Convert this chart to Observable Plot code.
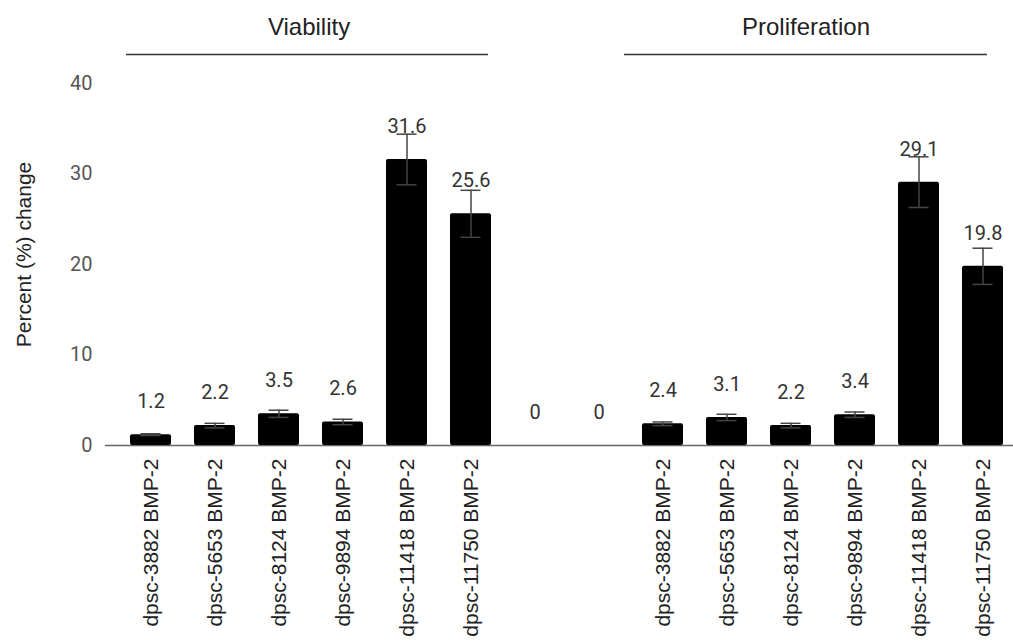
<!DOCTYPE html>
<html>
<head>
<meta charset="utf-8">
<script src="https://cdn.jsdelivr.net/npm/d3@7"></script>
<script src="https://cdn.jsdelivr.net/npm/@observablehq/plot@0.6"></script>
<style>
  html, body { margin: 0; padding: 0; background: #fff; }
</style>
</head>
<body>
<div id="chart"></div>
<script>
// ---- data ----
const strains = ["dpsc-3882 BMP-2", "dpsc-5653 BMP-2", "dpsc-8124 BMP-2", "dpsc-9894 BMP-2", "dpsc-11418 BMP-2", "dpsc-11750 BMP-2"];
const viability = [1.2, 2.2, 3.5, 2.6, 31.6, 25.6];
const viabilityErr = [0.1, 0.25, 0.4, 0.3, 2.8, 2.6];
const proliferation = [2.4, 3.1, 2.2, 3.4, 29.1, 19.8];
const proliferationErr = [0.2, 0.35, 0.25, 0.3, 2.8, 2.0];
const gapValues = [0, 0];
const groupNames = ["Viability", "Proliferation"];
const yTicks = [0, 10, 20, 30, 40];
const yTitle = "Percent (%) change";

// ---- table built from the arrays ----
const rows = [];
strains.forEach((s, i) => rows.push({key: "V|" + s, label: s, value: viability[i], err: viabilityErr[i]}));
gapValues.forEach((v, i) => rows.push({key: "gap" + i, label: "", value: v, err: null}));
strains.forEach((s, i) => rows.push({key: "P|" + s, label: s, value: proliferation[i], err: proliferationErr[i]}));
const bars = rows.filter(d => d.err != null);
const labelOf = new Map(rows.map(d => [d.key, d.label]));
const headers = [
  {name: groupNames[0], first: "V|" + strains[0], last: "V|" + strains[5], mid: "V|" + strains[2]},
  {name: groupNames[1], first: "P|" + strains[0], last: "P|" + strains[5], mid: "P|" + strains[2]}
];

const chart = Plot.plot({
  width: 1013,
  height: 641,
  marginTop: 83,
  marginBottom: 196,
  marginLeft: 105,
  marginRight: 0,
  style: {fontFamily: "Roboto, sans-serif", background: "#fff"},
  x: {domain: rows.map(d => d.key), paddingInner: 0.36, paddingOuter: 0.265, align: 0.7},
  y: {domain: [0, 40]},
  marks: [
    Plot.ruleY([0], {stroke: "#666", strokeWidth: 1.5}),
    Plot.barY(bars, {x: "key", y: "value", fill: "#000", rx: 2}),
    Plot.ruleX(bars, {x: "key", y1: d => d.value - d.err, y2: d => d.value + d.err, stroke: "#444", strokeWidth: 1.5}),
    Plot.tickY(bars, {x: "key", y: d => d.value + d.err, insetLeft: 10.5, insetRight: 10.5, stroke: "#444", strokeWidth: 1.5}),
    Plot.tickY(bars, {x: "key", y: d => d.value - d.err, insetLeft: 10.5, insetRight: 10.5, stroke: "#444", strokeWidth: 1.5}),
    Plot.text(rows, {x: "key", y: "value", text: d => String(d.value), dy: -33, fontSize: 20, fill: "#333", fontFamily: "Roboto"}),
    // group headers
    Plot.ruleY([headers[0]], {x1: "first", x2: "last", y: () => yTicks[4], dy: -29, insetLeft: -4, insetRight: 3, stroke: "#333", strokeWidth: 1.5}),
    Plot.ruleY([headers[1]], {x1: "first", x2: "last", y: () => yTicks[4], dy: -29, insetLeft: -18, insetRight: 16, stroke: "#333", strokeWidth: 1.5}),
    Plot.text([headers[0]], {x: "mid", y: () => yTicks[4], text: "name", dx: 30, dy: -56, fontSize: 24, fill: "#222", fontFamily: "Liberation Sans, Arial, sans-serif"}),
    Plot.text([headers[1]], {x: "mid", y: () => yTicks[4], text: "name", dx: 15, dy: -56, fontSize: 24, fill: "#222", fontFamily: "Liberation Sans, Arial, sans-serif"}),
    // axes
    Plot.axisY({ticks: yTicks, tickSize: 0, tickPadding: 13, fontSize: 20, fill: "#555", label: null, fontFamily: "Roboto"}),
    Plot.axisX({tickRotate: -90, tickSize: 0, tickPadding: 13, tickFormat: k => labelOf.get(k), fontSize: 21, fill: "#222", label: null, fontFamily: "Liberation Sans, Arial, sans-serif"}),
    Plot.text([yTitle], {frameAnchor: "left", textAnchor: "middle", text: d => d, rotate: -90, dx: -81, dy: -10, fontSize: 21, fill: "#222", fontFamily: "Liberation Sans, Arial, sans-serif"})
  ]
});
document.getElementById("chart").appendChild(chart);
</script>
</body>
</html>
